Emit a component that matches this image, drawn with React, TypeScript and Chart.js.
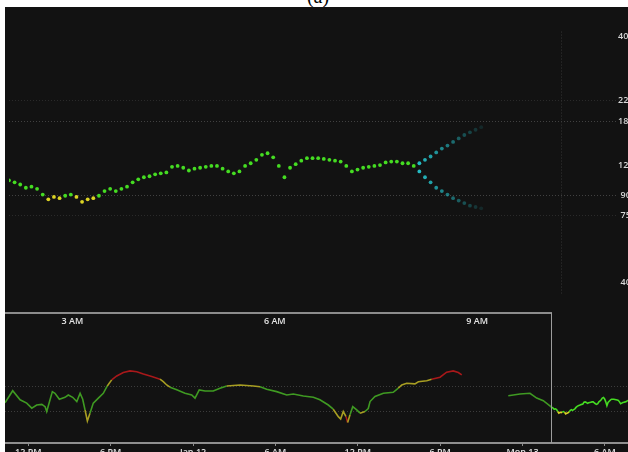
import React, { useEffect, useRef } from 'react';
import { Chart, registerables } from 'chart.js';

Chart.register(...registerables);

// ---------- main (zoomed) chart data: Mon 13 morning ----------
const START_MIN = 123.6; // minutes after midnight of the first reading
const STEP_MIN = 5;
const READINGS = [
  104, 102, 100, 97, 98, 96, 91, 87, 89, 88,
  90, 91, 89, 85, 87, 88, 90, 94, 96, 94,
  96, 98, 102, 105, 107, 108, 110, 111, 112, 118,
  119, 117, 114, 116, 117, 118, 119, 119, 116, 113,
  111, 113, 119, 122, 126, 132, 134, 129, 119, 107,
  117, 121, 125, 128, 128, 128, 127, 126, 125, 124,
  119, 113, 115, 117, 118, 119, 120, 123, 124, 124,
  122, 122, 119,
];
const FORECAST_HIGH = [122, 126, 130, 135, 140, 144, 149, 154, 159, 163, 167, 171];
const FORECAST_LOW = [113, 107, 102, 97, 94, 91, 88, 86, 84, 82, 81, 80];
const MAIN_TICKS = [180, 360, 540];
const MAIN_TICK_LABELS = ['3 AM', '6 AM', '9 AM'];
const Y_TICKS = [40, 75, 90, 120, 180, 220, 400];
const Y_STRONG_GRID = [90, 180];
const Y_FAINT_GRID = [75, 220];
const NOW_MIN = 615;
const NOW_RANGE = [36, 419];

// ---------- overview chart data (hours after 12 PM Jan 11) ----------
const OV_HOURS = [
  -1.7, -1.14, -0.6, -0.12, 0.25, 0.61, 0.98, 1.22, 1.34, 1.58,
  1.75, 1.94, 2.26, 2.67, 2.91, 3.23, 3.53, 3.77, 3.96, 4.13,
  4.3, 4.49, 4.73, 5.1, 5.46, 5.75, 6.07, 6.44, 6.92, 7.41,
  7.9, 8.38, 8.99, 9.59, 9.83, 10.08, 10.32, 10.81, 11.41, 11.9,
  12.14, 12.45, 12.87, 13.47, 13.96, 14.45, 15.42, 16.39, 16.88, 17.36,
  18.09, 18.82, 19.3, 20.03, 20.76, 21.24, 21.85, 22.21, 22.58, 22.75,
  22.94, 23.14, 23.26, 23.43, 23.63, 23.92, 24.16, 24.52, 24.76, 24.89,
  25.25, 25.86, 26.58, 26.95, 27.2, 27.56, 28.16, 28.41, 29.02, 29.38,
  29.99, 30.47, 30.95, 31.32, 31.57, 33.0, 34.96, 35.81, 36.54, 37.03,
  37.51,
];
const OV_VALUES: (number | null)[] = [
  116, 162, 126, 115, 100, 109, 111, 104, 91, 126,
  158, 151, 128, 135, 144, 135, 120, 151, 128, 95,
  70, 87, 115, 132, 151, 185, 219, 244, 268, 281,
  275, 258, 240, 223, 208, 190, 179, 166, 151, 144,
  132, 166, 161, 161, 174, 185, 190, 185, 181, 169,
  158, 144, 148, 140, 135, 126, 109, 97, 79, 74,
  91, 79, 67, 83, 104, 95, 87, 91, 99, 120,
  138, 151, 155, 174, 190, 199, 196, 208, 214, 223,
  236, 271, 281, 268, 251, null, 141, 148, 151, 132,
  123,
];
const OV_TICKS = [0, 6, 12, 18, 24, 30, 36, 42];
const OV_TICK_LABELS = ['12 PM', '6 PM', 'Jan 12', '6 AM', '12 PM', '6 PM', 'Mon 13', '6 AM'];
const OV_DAY_OFFSET_H = 36; // midnight of Mon 13 in overview hours

// ---------- styling ----------
const BRIGHT = ['#45dc22', '#dcd424', '#d01c1c'];
const DIM = ['#3f9a22', '#a89e22', '#a8181a'];
const FONT = { family: '"Open Sans", Roboto, sans-serif', size: 9, weight: '600' as const };

const zoneLevel = (v: number) => (v < 75 || v >= 220 ? 2 : v < 90 || v > 180 ? 1 : 0);

export default function App() {
  const mainRef = useRef<HTMLCanvasElement>(null);
  const ovRef = useRef<HTMLCanvasElement>(null);

  useEffect(() => {
    const times = READINGS.map((_, i) => START_MIN + STEP_MIN * i);
    const fTimes = FORECAST_HIGH.map((_, j) => START_MIN + STEP_MIN * (READINGS.length + j));
    const fadeColors = FORECAST_HIGH.map((_, j) => `rgba(38,196,204,${Math.max(0.12, 0.95 - j * 0.075)})`);

    const main = new Chart(mainRef.current!, {
      type: 'scatter',
      data: {
        datasets: [
          {
            data: READINGS.map((v, i) => ({ x: times[i], y: v })),
            showLine: false,
            pointRadius: 1.9,
            pointBorderWidth: 0,
            pointBackgroundColor: READINGS.map((v) => BRIGHT[zoneLevel(v)]),
          },
          {
            data: FORECAST_HIGH.map((v, j) => ({ x: fTimes[j], y: v })),
            showLine: false,
            pointRadius: 1.9,
            pointBorderWidth: 0,
            pointBackgroundColor: fadeColors,
          },
          {
            data: FORECAST_LOW.map((v, j) => ({ x: fTimes[j], y: v })),
            showLine: false,
            pointRadius: 1.9,
            pointBorderWidth: 0,
            pointBackgroundColor: fadeColors,
          },
          {
            data: [
              { x: NOW_MIN, y: NOW_RANGE[1] },
              { x: NOW_MIN, y: NOW_RANGE[0] },
            ],
            showLine: true,
            pointRadius: 0,
            borderColor: '#363636',
            borderWidth: 1,
            borderDash: [1, 2],
          },
        ],
      },
      options: {
        animation: false,
        responsive: false,
        maintainAspectRatio: false,
        layout: { padding: 0 },
        plugins: { legend: { display: false }, tooltip: { enabled: false } },
        scales: {
          x: {
            type: 'linear',
            min: 123.62,
            max: 663.5,
            grid: { display: false, drawTicks: false },
            border: { display: false },
            afterBuildTicks: (s: any) => {
              s.ticks = MAIN_TICKS.map((v) => ({ value: v }));
            },
            afterFit: (s: any) => {
              s.height = 20;
              s.paddingLeft = 0;
              s.paddingRight = 0;
            },
            ticks: {
              color: '#e4e4e4',
              font: FONT,
              padding: 3,
              maxRotation: 0,
              autoSkip: false,
              callback: (v: any) => MAIN_TICK_LABELS[MAIN_TICKS.indexOf(Number(v))] ?? '',
            },
          },
          y: {
            type: 'logarithmic',
            position: 'right',
            min: 30,
            max: 508,
            afterBuildTicks: (s: any) => {
              s.ticks = Y_TICKS.map((v) => ({ value: v }));
            },
            afterFit: (s: any) => {
              s.width = 24;
              s.paddingTop = 0;
              s.paddingBottom = 0;
            },
            grid: {
              drawTicks: false,
              color: (ctx: any) => {
                const v = ctx.tick?.value;
                if (Y_STRONG_GRID.includes(v)) return '#414141';
                if (Y_FAINT_GRID.includes(v)) return '#2a2a2a';
                return 'rgba(0,0,0,0)';
              },
            },
            border: { display: false, dash: [1, 2] },
            ticks: {
              color: '#d8d8d8',
              font: FONT,
              padding: 2,
              crossAlign: 'center',
              autoSkip: false,
              callback: (v: any) => String(v),
            },
          },
        },
      },
    });

    const selStart = OV_DAY_OFFSET_H + START_MIN / 60;
    const ovPoints = [
      ...OV_HOURS.map((h, i) => ({ x: h, y: OV_VALUES[i] })),
      ...READINGS.map((v, i) => ({ x: OV_DAY_OFFSET_H + (START_MIN + STEP_MIN * i) / 60, y: v })),
    ];

    const ov = new Chart(ovRef.current!, {
      type: 'line',
      data: {
        datasets: [
          {
            data: ovPoints as any,
            pointRadius: 0,
            borderWidth: 1.6,
            spanGaps: false,
            borderColor: DIM[0],
            segment: {
              borderColor: (ctx: any) => {
                const v = (ctx.p0.parsed.y + ctx.p1.parsed.y) / 2;
                const pal = ctx.p0.parsed.x >= selStart - 0.01 ? BRIGHT : DIM;
                return pal[zoneLevel(v)];
              },
            },
          },
        ],
      },
      options: {
        animation: false,
        responsive: false,
        maintainAspectRatio: false,
        layout: { padding: 0 },
        plugins: { legend: { display: false }, tooltip: { enabled: false } },
        scales: {
          x: {
            type: 'linear',
            min: -1.7,
            max: 43.68,
            afterBuildTicks: (s: any) => {
              s.ticks = OV_TICKS.map((v) => ({ value: v }));
            },
            afterFit: (s: any) => {
              s.height = 20;
              s.paddingLeft = 0;
              s.paddingRight = 0;
            },
            grid: { display: true, drawOnChartArea: false, drawTicks: true, tickLength: 3, color: '#8a8a8a' },
            border: { display: true, color: '#8f8f8f', width: 2 },
            ticks: {
              color: '#e0e0e0',
              font: FONT,
              padding: 1,
              maxRotation: 0,
              autoSkip: false,
              callback: (v: any) => OV_TICK_LABELS[OV_TICKS.indexOf(Number(v))] ?? '',
            },
          },
          y: {
            type: 'logarithmic',
            min: 38,
            max: 1400,
            afterBuildTicks: (s: any) => {
              s.ticks = Y_STRONG_GRID.map((v) => ({ value: v }));
            },
            afterFit: (s: any) => {
              s.width = 0;
              s.paddingTop = 0;
              s.paddingBottom = 0;
            },
            grid: { drawTicks: false, color: '#3c3c3c' },
            border: { display: false, dash: [1, 2] },
            ticks: { display: false },
          },
        },
      },
    });

    return () => {
      main.destroy();
      ov.destroy();
    };
  }, []);

  return (
    <div
      style={{
        position: 'fixed',
        left: 0,
        top: 0,
        width: 628,
        height: 452,
        background: '#ffffff',
        overflow: 'hidden',
      }}
    >
      <div
        style={{
          position: 'absolute',
          left: 298,
          top: -15,
          width: 40,
          textAlign: 'center',
          fontFamily: '"Liberation Serif", serif',
          fontSize: 20,
          lineHeight: '23px',
          color: '#000',
        }}
      >
        (a)
      </div>
      <div
        style={{
          position: 'absolute',
          left: 5,
          top: 7,
          width: 623,
          height: 445,
          background: '#121212',
          overflow: 'hidden',
        }}
      >
        <canvas
          ref={mainRef}
          width={635}
          height={326}
          style={{ position: 'absolute', left: 0, top: 0, width: 635, height: 326 }}
        />
        <canvas
          ref={ovRef}
          width={623}
          height={150}
          style={{ position: 'absolute', left: 0, top: 306, width: 623, height: 150 }}
        />
        <div style={{ position: 'absolute', left: 0, top: 305, width: 547, height: 2, background: '#8c8c8c' }} />
        <div style={{ position: 'absolute', left: 546, top: 306, width: 1, height: 130, background: '#9c9c9c' }} />
      </div>
    </div>
  );
}
